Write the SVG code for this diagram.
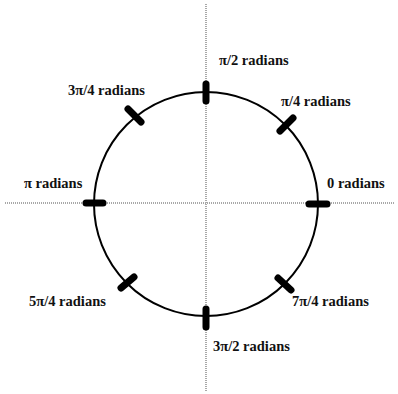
<svg xmlns="http://www.w3.org/2000/svg" width="398" height="394" viewBox="0 0 398 394">
<style>
.axis{stroke:#a8a8a8;stroke-width:2;stroke-dasharray:1 1;fill:none}
.circle{stroke:#000;stroke-width:2;fill:none}
.tick{stroke:#000;stroke-width:7;stroke-linecap:round}
text{font-family:"Liberation Serif","Times New Roman",serif;font-size:14.5px;font-weight:bold;fill:#111}
</style>
<rect width="398" height="394" fill="#fff"/>
<g id="axes">
<line class="axis" x1="206" y1="4" x2="206" y2="391"/>
<line class="axis" x1="5" y1="203" x2="395" y2="203"/>
</g>
<g id="circle"><circle class="circle" cx="206" cy="204" r="112"/></g>
<g id="n0"><line class="tick" x1="309" y1="204" x2="327" y2="204"/><text x="327" y="188">0 radians</text></g>
<g id="n1"><line class="tick" x1="280" y1="131" x2="293" y2="118"/><text x="281" y="106">π/4 radians</text></g>
<g id="n2"><line class="tick" x1="206" y1="84" x2="206" y2="101"/><text x="219" y="65">π/2 radians</text></g>
<g id="n3"><line class="tick" x1="128" y1="109" x2="141" y2="122"/><text x="68" y="95">3π/4 radians</text></g>
<g id="n4"><line class="tick" x1="86" y1="203" x2="103" y2="203"/><text x="24" y="188">π radians</text></g>
<g id="n5"><line class="tick" x1="121" y1="288" x2="134" y2="277"/><text x="29" y="306">5π/4 radians</text></g>
<g id="n6"><line class="tick" x1="278" y1="278" x2="291" y2="290"/><text x="292" y="306">7π/4 radians</text></g>
<g id="n7"><line class="tick" x1="206" y1="309" x2="206" y2="327"/><text x="213" y="351">3π/2 radians</text></g>
</svg>
